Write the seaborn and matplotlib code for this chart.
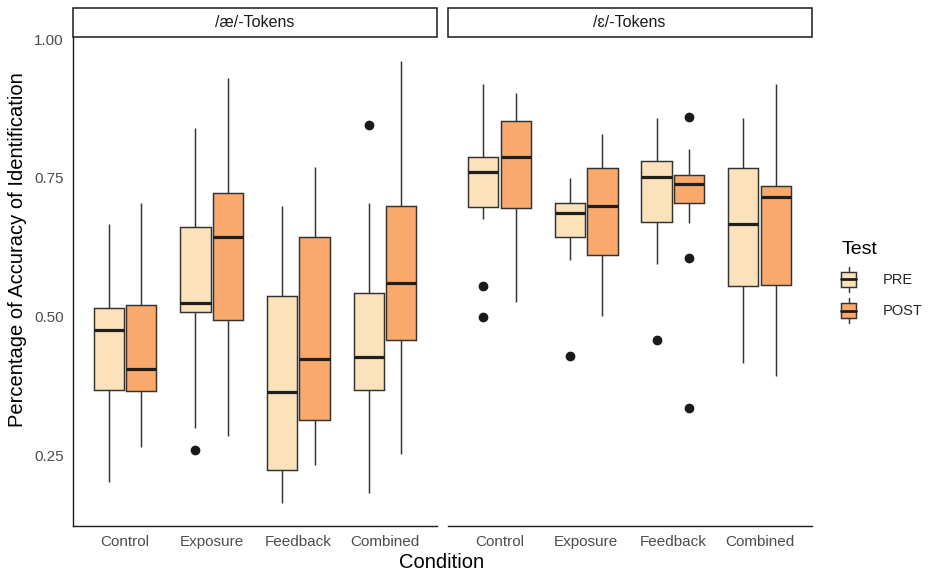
import numpy as np
import pandas as pd
import matplotlib
matplotlib.use("Agg")
import matplotlib.pyplot as plt
import seaborn as sns
from matplotlib.patches import Rectangle, Patch
from matplotlib.lines import Line2D
from matplotlib.legend_handler import HandlerBase

# ---------------- data ----------------
conditions = ["Control", "Exposure", "Feedback", "Combined"]
tests = ["PRE", "POST"]
panels = ["/æ/-Tokens", "/ɛ/-Tokens"]

# per condition: lower whisker, Q1, median, Q3, upper whisker
ae_pre_stats = [
    [0.201, 0.367, 0.476, 0.515, 0.667],
    [0.299, 0.509, 0.524, 0.662, 0.840],
    [0.163, 0.223, 0.364, 0.537, 0.699],
    [0.181, 0.367, 0.427, 0.543, 0.704],
]
ae_pre_outliers = [[], [0.260], [], [0.845]]

ae_post_stats = [
    [0.265, 0.366, 0.406, 0.520, 0.704],
    [0.284, 0.494, 0.644, 0.723, 0.931],
    [0.232, 0.313, 0.424, 0.644, 0.770],
    [0.252, 0.458, 0.561, 0.699, 0.961],
]
ae_post_outliers = [[], [], [], []]

eh_pre_stats = [
    [0.676, 0.697, 0.760, 0.788, 0.920],
    [0.602, 0.644, 0.686, 0.704, 0.750],
    [0.594, 0.670, 0.751, 0.780, 0.858],
    [0.417, 0.555, 0.667, 0.767, 0.858],
]
eh_pre_outliers = [[0.555, 0.500], [0.429], [0.457], []]

eh_post_stats = [
    [0.527, 0.695, 0.788, 0.852, 0.904],
    [0.501, 0.611, 0.699, 0.768, 0.830],
    [0.668, 0.704, 0.739, 0.755, 0.802],
    [0.392, 0.557, 0.715, 0.735, 0.919],
]
eh_post_outliers = [[], [], [0.860, 0.606, 0.335], []]

y_ticks = [0.25, 0.50, 0.75, 1.00]
y_tick_labels = ["0.25", "0.50", "0.75", "1.00"]
palette = {"PRE": "#FCE2BA", "POST": "#FAA96D"}


def samples_from_stats(stats, outs):
    """Build a sample whose quartiles/whiskers/outliers equal the read values."""
    lo, q1, med, q3, hi = stats
    lows = sorted(o for o in outs if o < q1) + [lo]
    highs = [hi] + sorted(o for o in outs if o > q3)
    k = max(len(lows), len(highs))
    lows = lows + [q1] * (k - len(lows))
    highs = [q3] * (k - len(highs)) + highs
    return lows + [q1] * k + [med] * k + [q3] + highs


rows = []
sources = {
    (panels[0], "PRE"): (ae_pre_stats, ae_pre_outliers),
    (panels[0], "POST"): (ae_post_stats, ae_post_outliers),
    (panels[1], "PRE"): (eh_pre_stats, eh_pre_outliers),
    (panels[1], "POST"): (eh_post_stats, eh_post_outliers),
}
for (panel, test), (stats, outs) in sources.items():
    for cond, st, ol in zip(conditions, stats, outs):
        for v in samples_from_stats(st, ol):
            rows.append({"Panel": panel, "Condition": cond, "Test": test, "Accuracy": v})
df = pd.DataFrame(rows)

# ---------------- figure ----------------
sns.set_style("white")
plt.rcParams["font.family"] = ["Liberation Sans", "DejaVu Sans"]

W, H = 930, 572
fig = plt.figure(figsize=(W / 100, H / 100), dpi=100)

def fx(px):
    return px / W

def fy(py):
    return 1 - py / H

panel_top, panel_bot = 37, 525.5
lefts = [73, 447.5]
pw = 364
ylo = 1 - (panel_bot - 39.3) / 554.4
yhi = 1 + (39.3 - panel_top) / 554.4

edge = "#333333"
lw = 1.05
axes = []
for i, panel in enumerate(panels):
    ax = fig.add_axes([fx(lefts[i]), fy(panel_bot), fx(pw), (panel_bot - panel_top) / H])
    sub = df[df["Panel"] == panel]
    sns.boxplot(
        data=sub, x="Condition", y="Accuracy", hue="Test",
        order=conditions, hue_order=tests, palette=palette,
        saturation=1, width=0.75, gap=0.07, linecolor=edge, linewidth=lw,
        legend=False, ax=ax, showcaps=False,
        medianprops=dict(color="#1f1f1f", linewidth=2.3),
        flierprops=dict(marker="o", markersize=6, markerfacecolor="#1a1a1a",
                        markeredgecolor="#1a1a1a"),
    )
    ax.set_xlim(-0.6, 3.6)
    ax.set_ylim(ylo, yhi)
    ax.set_xlabel("")
    ax.set_ylabel("")
    for s in ["top", "right"]:
        ax.spines[s].set_visible(False)
    ax.spines["bottom"].set_color("#1a1a1a")
    ax.spines["bottom"].set_linewidth(1.0)
    ax.spines["left"].set_color("#1a1a1a")
    ax.spines["left"].set_linewidth(1.0)
    ax.tick_params(axis="both", length=3.6, width=0.9, color="#333333",
                   labelcolor="#4D4D4D", labelsize=11, pad=3.2)
    ax.set_yticks(y_ticks)
    if i == 0:
        ax.set_yticklabels(y_tick_labels)
    else:
        ax.spines["left"].set_visible(False)
        ax.tick_params(axis="y", left=False, labelleft=False)
    ax.set_facecolor("white")
    axes.append(ax)

    # facet strip
    fig.patches.append(Rectangle((fx(lefts[i]), fy(panel_top)), fx(pw), (panel_top - 8) / H,
                                 transform=fig.transFigure, facecolor="white",
                                 edgecolor="#1a1a1a", linewidth=1.1))
    fig.text(fx(lefts[i] + pw / 2), fy(22.5), panel, ha="center", va="center",
             fontsize=11.5, color="#1a1a1a")

# axis titles
fig.text(fx(442), fy(563), "Condition", ha="center", va="center", fontsize=14.5, color="black")
fig.text(fx(17.5), fy(250), "Percentage of Accuracy of Identification", ha="center", va="center",
         rotation=90, fontsize=14.5, color="black")


class BoxKey(HandlerBase):
    def create_artists(self, legend, orig, xdescent, ydescent, width, height, fontsize, trans):
        x0, y0 = -xdescent, -ydescent
        cx = x0 + width / 2
        fc = orig.get_facecolor()
        line = Line2D([cx, cx], [y0, y0 + height], color=edge, lw=lw, transform=trans)
        bw, bh = width * 0.86, height * 0.58
        rect = Rectangle((cx - bw / 2, y0 + (height - bh) / 2), bw, bh, facecolor=fc,
                         edgecolor=edge, lw=lw, transform=trans)
        med = Line2D([cx - bw / 2, cx + bw / 2], [y0 + height / 2] * 2, color="#1f1f1f",
                     lw=2.0, transform=trans)
        return [line, rect, med]


# legend: title as text, entries as a figure legend
fig.text(fx(842), fy(249), "Test", ha="left", va="center", fontsize=14, color="black")
handles = [Patch(facecolor=palette[t], edgecolor=edge) for t in tests]
leg = fig.legend(handles, tests, loc="upper left",
                 bbox_to_anchor=(fx(840), fy(267)), frameon=False,
                 handler_map={Patch: BoxKey()}, fontsize=10.5,
                 handlelength=1.17, handleheight=2.26, labelspacing=0.42,
                 handletextpad=1.75, borderpad=0.0, borderaxespad=0.0)

fig.savefig("out.png", dpi=100, facecolor="white")
